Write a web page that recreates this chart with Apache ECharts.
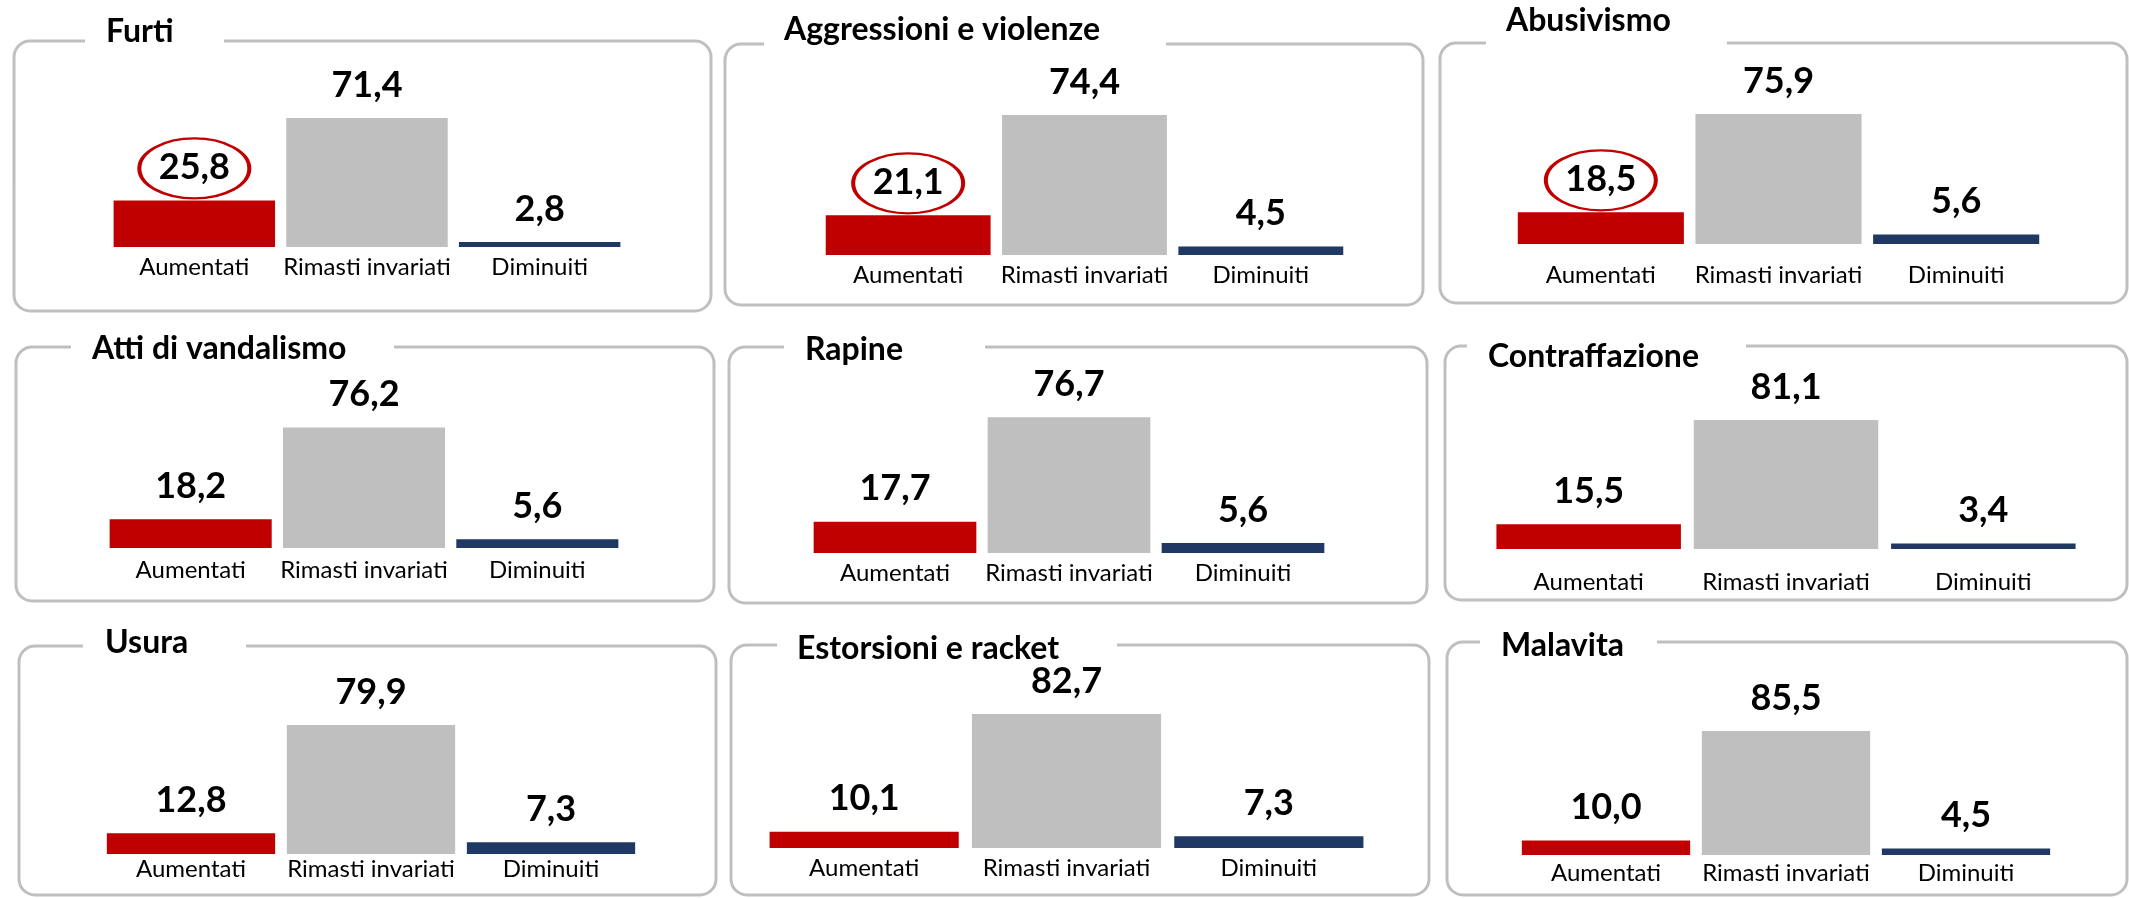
<!DOCTYPE html>
<html>
<head>
<meta charset="utf-8">
<title>Reati percepiti</title>
<script src="https://cdn.jsdelivr.net/npm/echarts@6/dist/echarts.min.js"></script>
<style>
  html, body { margin: 0; padding: 0; background: #fff; }
  #chart { width: 2129px; height: 898px; }
</style>
</head>
<body>
<div id="chart"></div>
<script>
// categorie e valori (%)
var categories = ['Aumentati', 'Rimasti invariati', 'Diminuiti'];
var reati = ['Furti', 'Aggressioni e violenze', 'Abusivismo', 'Atti di vandalismo', 'Rapine', 'Contraffazione', 'Usura', 'Estorsioni e racket', 'Malavita'];
var aumentati = [25.8, 21.1, 18.5, 18.2, 17.7, 15.5, 12.8, 10.1, 10.0];
var invariati = [71.4, 74.4, 75.9, 76.2, 76.7, 81.1, 79.9, 82.7, 85.5];
var diminuiti = [2.8, 4.5, 5.6, 5.6, 5.6, 3.4, 7.3, 7.3, 4.5];
// reati con il valore "Aumentati" cerchiato
var evidenziati = ['Furti', 'Aggressioni e violenze', 'Abusivismo'];

var colori = ['#C00000', '#BFBFBF', '#203864'];

// riquadri: box [x, y, w, h], varco nel bordo per il titolo, area barre [x0, x1], base, px per punto
var pannelli = [
  { box: [14, 41, 697, 270],   varco: [85, 224],    gx: [108, 626],   base: 247, scala: 1.807, ty: 16,  tx: 106,  lm: 8 },
  { box: [725, 44, 698, 261],  varco: [764, 1166],  gx: [820, 1349],  base: 255, scala: 1.882, ty: 14,  tx: 784,  lm: 8 },
  { box: [1440, 43, 687, 260], varco: [1486, 1727], gx: [1512, 2045], base: 244, scala: 1.713, ty: 5,   tx: 1506, lm: 19 },
  { box: [16, 347, 698, 254],  varco: [71, 394],    gx: [104, 624],   base: 548, scala: 1.58,  ty: 333, tx: 92,   lm: 10 },
  { box: [729, 347, 698, 256], varco: [784, 985],   gx: [808, 1330],  base: 553, scala: 1.77,  ty: 334, tx: 805,  lm: 8 },
  { box: [1445, 346, 682, 254], varco: [1467, 1746], gx: [1490, 2082], base: 549, scala: 1.591, ty: 341, tx: 1488, lm: 21 },
  { box: [19, 646, 697, 249],  varco: [83, 246],    gx: [101, 641],   base: 854, scala: 1.615, ty: 627, tx: 105,  lm: 3 },
  { box: [731, 645, 698, 250], varco: [777, 1117],  gx: [763, 1370],  base: 848, scala: 1.62,  ty: 633, tx: 797,  lm: 8 },
  { box: [1447, 642, 680, 253], varco: [1480, 1657], gx: [1516, 2056], base: 855, scala: 1.45,  ty: 630, tx: 1501, lm: 6 }
];

var font = 'Lato, "Open Sans", sans-serif';

function virgola(v) {
  return v.toFixed(1).replace('.', ',');
}

var myChart = echarts.init(document.getElementById('chart'), null, { renderer: 'canvas' });

var grid = [], xAxis = [], yAxis = [], series = [], title = [], graphic = [];

pannelli.forEach(function (p, i) {
  var h = 100 * p.scala;
  grid.push({ left: p.gx[0], width: p.gx[1] - p.gx[0], top: p.base - h, height: h });

  xAxis.push({
    type: 'category',
    gridIndex: i,
    data: categories,
    axisLine: { show: false },
    axisTick: { show: false },
    axisLabel: {
      interval: 0,
      margin: p.lm,
      color: '#000',
      fontFamily: font,
      fontSize: 24,
      lineHeight: 24,
      verticalAlign: 'top'
    }
  });
  yAxis.push({ type: 'value', gridIndex: i, min: 0, max: 100, show: false });

  var valori = [aumentati[i], invariati[i], diminuiti[i]];
  var s = {
    type: 'bar',
    name: reati[i],
    xAxisIndex: i,
    yAxisIndex: i,
    barCategoryGap: '6.5%',
    silent: true,
    data: valori.map(function (v, k) {
      return { value: v, itemStyle: { color: colori[k] } };
    }),
    label: {
      show: true,
      position: 'top',
      distance: 15,
      formatter: function (d) { return virgola(d.value); },
      color: '#000',
      fontFamily: font,
      fontWeight: 'bold',
      fontSize: 36,
      lineHeight: 36
    }
  };
  if (evidenziati.indexOf(reati[i]) >= 0) {
    s.markPoint = {
      silent: true,
      symbol: 'path://M0 1A1 1 0 1 1 2 1A1 1 0 1 1 0 1Z',
      symbolSize: [110, 60],
      symbolOffset: [0, -32],
      itemStyle: { color: 'rgba(0,0,0,0)', borderColor: '#C00000', borderWidth: 3 },
      label: { show: false },
      data: [{ coord: [0, aumentati[i]] }]
    };
  }
  series.push(s);

  title.push({
    text: reati[i],
    left: p.tx,
    top: p.ty,
    padding: 0,
    textStyle: { color: '#000', fontFamily: font, fontWeight: 'bold', fontSize: 32, lineHeight: 32 }
  });

  // riquadro arrotondato e varco bianco per il titolo
  graphic.push({
    type: 'rect',
    silent: true,
    shape: { x: p.box[0], y: p.box[1], width: p.box[2], height: p.box[3], r: 16 },
    style: { fill: 'none', stroke: '#BFBFBF', lineWidth: 3 }
  });
  graphic.push({
    type: 'rect',
    silent: true,
    shape: { x: p.varco[0], y: p.box[1] - 3, width: p.varco[1] - p.varco[0], height: 6 },
    style: { fill: '#fff' }
  });
});

var option = {
  backgroundColor: '#fff',
  animation: false,
  title: title,
  grid: grid,
  xAxis: xAxis,
  yAxis: yAxis,
  series: series,
  graphic: graphic
};

myChart.setOption(option);
</script>
</body>
</html>
